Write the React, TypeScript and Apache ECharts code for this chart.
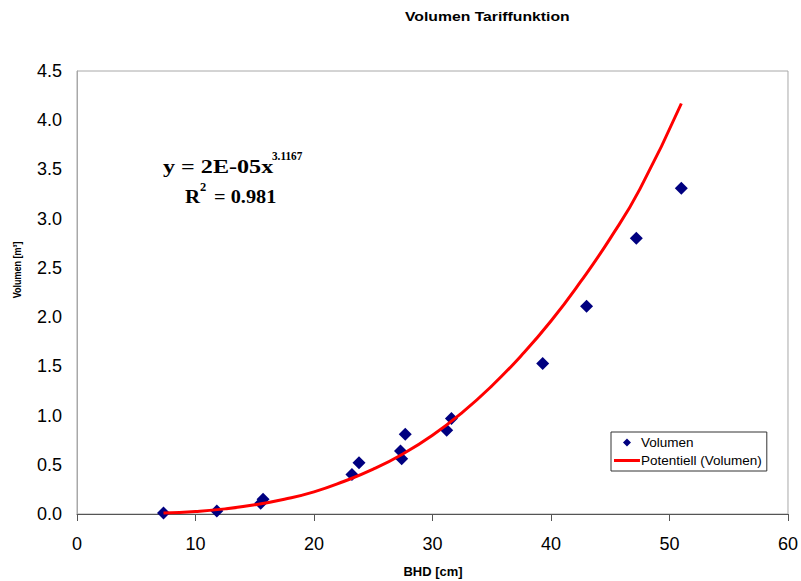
import React, { useEffect, useRef } from "react";
import * as echarts from "echarts";

// Measured data (BHD [cm], Volumen [m³])
const bhd = [7.3, 11.8, 15.5, 15.7, 23.2, 23.8, 27.3, 27.4, 27.7, 31.2, 31.6, 39.3, 43.0, 47.2, 51.0];
const volumen = [0.01, 0.03, 0.11, 0.15, 0.4, 0.52, 0.64, 0.56, 0.81, 0.85, 0.97, 1.53, 2.11, 2.8, 3.31];

// Trend line (Potentiell)
const trendX = [7.3, 10, 12.5, 15, 17.5, 20, 22.5, 25, 27.5, 30, 32.5, 35, 37.5, 40, 42.5, 45, 47.5, 51];
const trendY = [0.01, 0.026, 0.052, 0.093, 0.15, 0.225, 0.33, 0.455, 0.61, 0.8, 1.03, 1.3, 1.61, 1.96, 2.36, 2.8, 3.3, 4.17];

const xTicks = { min: 0, max: 60, interval: 10 };
const yTicks = { min: 0, max: 4.5, interval: 0.5 };

const titleText = "Volumen Tariffunktion";
const eqMain = "y = 2E-05x";
const eqExp = "3.1167";
const r2Main = "= 0.981";

const DIAMOND_ICON =
  "path://M0,0L0.01,0L0.01,0.01ZM26,8L26.01,8L26.01,8.01ZM13,0L17,4L13,8L9,4Z";
const LINE_ICON =
  "path://M0,0L0.01,0L0.01,0.01ZM26,8L26.01,8L26.01,8.01ZM0,2.6L26,2.6L26,5.4L0,5.4Z";

export default function App() {
  const ref = useRef<HTMLDivElement>(null);
  useEffect(() => {
    document.body.style.margin = "0";
    if (!ref.current) return;
    const chart = echarts.init(ref.current, null, { renderer: "svg" });
    const serif = "'Liberation Serif', 'Times New Roman', serif";
    const sans = "'Liberation Sans', Arial, sans-serif";
    chart.setOption({
      animation: false,
      backgroundColor: "#ffffff",
      grid: {
        left: 77,
        right: 12,
        top: 71,
        bottom: 67,
        show: true,
        borderColor: "#a8a8a8",
        borderWidth: 1,
        backgroundColor: "transparent",
      },
      legend: {
        orient: "vertical",
        left: 611,
        top: 432,
        padding: [3, 5, 3, 3],
        itemGap: 3,
        itemWidth: 26,
        itemHeight: 8,
        borderColor: "#333333",
        borderWidth: 1,
        backgroundColor: "#ffffff",
        textStyle: { fontFamily: sans, fontSize: 13.5, color: "#000", lineHeight: 15, padding: [0, 0, 0, -4] },
        data: [
          { name: "Volumen", icon: DIAMOND_ICON },
          { name: "Potentiell (Volumen)", icon: LINE_ICON },
        ],
      },
      xAxis: {
        type: "value",
        min: xTicks.min,
        max: xTicks.max,
        interval: xTicks.interval,
        axisLine: { show: true, onZero: false, lineStyle: { color: "#555555", width: 1 } },
        axisTick: { show: true, length: 7, inside: false, lineStyle: { color: "#555555" } },
        axisLabel: { fontFamily: sans, fontSize: 18, color: "#000", margin: 21 },
        splitLine: { show: false },
      },
      yAxis: {
        type: "value",
        min: yTicks.min,
        max: yTicks.max,
        interval: yTicks.interval,
        axisLine: { show: true, lineStyle: { color: "#a8a8a8", width: 1 } },
        axisTick: { show: false },
        axisLabel: {
          fontFamily: sans,
          fontSize: 18,
          color: "#000",
          margin: 15,
          formatter: (v: number) => v.toFixed(1),
        },
        splitLine: { show: false },
      },
      graphic: [
        {
          type: "text",
          x: 405,
          y: 17,
          scaleX: 1.26,
          style: { text: titleText, fontFamily: sans, fontSize: 12.5, fontWeight: "bold", fill: "#000", align: "left", verticalAlign: "middle" },
        },
        {
          type: "text",
          x: 163,
          y: 167,
          scaleX: 1.27,
          style: { text: eqMain, fontFamily: serif, fontSize: 19, fontWeight: "bold", fill: "#000", align: "left", verticalAlign: "middle" },
        },
        {
          type: "text",
          x: 272,
          y: 156,
          scaleX: 0.9,
          style: { text: eqExp, fontFamily: serif, fontSize: 12.5, fontWeight: "bold", fill: "#000", align: "left", verticalAlign: "middle" },
        },
        {
          type: "text",
          x: 185,
          y: 196,
          scaleX: 1.1,
          style: { text: "R", fontFamily: serif, fontSize: 19, fontWeight: "bold", fill: "#000", align: "left", verticalAlign: "middle" },
        },
        {
          type: "text",
          x: 200,
          y: 187,
          style: { text: "2", fontFamily: serif, fontSize: 12.5, fontWeight: "bold", fill: "#000", align: "left", verticalAlign: "middle" },
        },
        {
          type: "text",
          x: 214,
          y: 196,
          scaleX: 1.07,
          style: { text: r2Main, fontFamily: serif, fontSize: 19, fontWeight: "bold", fill: "#000", align: "left", verticalAlign: "middle" },
        },
        {
          type: "text",
          x: 433,
          y: 572,
          scaleX: 1.08,
          style: { text: "BHD [cm]", fontFamily: sans, fontSize: 12, fontWeight: "bold", fill: "#000", align: "center", verticalAlign: "middle" },
        },
        {
          type: "text",
          x: 17,
          y: 270,
          rotation: Math.PI / 2,
          scaleY: 1.3,
          style: { text: "Volumen [m³]", fontFamily: sans, fontSize: 9, fontWeight: "bold", fill: "#000", align: "center", verticalAlign: "middle" },
        },
      ],
      series: [
        {
          name: "Volumen",
          type: "scatter",
          symbol: "diamond",
          symbolSize: 13,
          itemStyle: { color: "#000080", opacity: 1 },
          data: bhd.map((x, i) => [x, volumen[i]]),
          z: 2,
        },
        {
          name: "Potentiell (Volumen)",
          type: "line",
          symbol: "none",
          smooth: true,
          lineStyle: { color: "#ff0000", width: 3 },
          itemStyle: { color: "#ff0000" },
          data: trendX.map((x, i) => [x, trendY[i]]),
          z: 3,
        },
      ],
    });
    return () => chart.dispose();
  }, []);
  return <div ref={ref} style={{ width: 801, height: 581 }} />;
}
